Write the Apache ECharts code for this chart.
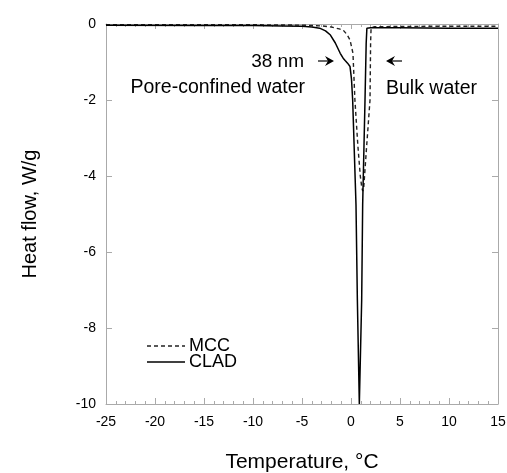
<!DOCTYPE html>
<html>
<head>
<meta charset="utf-8">
<script src="https://cdn.jsdelivr.net/npm/echarts@6/dist/echarts.min.js"></script>
<style>
  html, body { margin: 0; padding: 0; background: #fff; }
  #chart { width: 507px; height: 473px; }
</style>
</head>
<body>
<div id="chart"></div>
<script>
// CLAD (solid)
var cladTemp = [-25, -15, -10, -7, -5, -4, -3.2, -2.6, -2.1, -1.6, -1.1, -0.8, -0.6, -0.35, -0.1, 0.05, 0.17, 0.51, 0.65, 0.85, 1.09, 1.19, 1.43, 1.55, 1.62, 2.0, 5, 10, 15]
var cladHeat = [-0.03, -0.04, -0.04, -0.05, -0.06, -0.08, -0.11, -0.18, -0.29, -0.5, -0.77, -0.9, -0.96, -1.03, -1.12, -1.45, -2.0, -4.76, -7.26, -10, -7.26, -4.76, -2.0, -0.5, -0.11, -0.1, -0.1, -0.11, -0.11]
// MCC (dashed)
var mccTemp = [-25, -15, -10, -5, -3, -2, -1.2, -0.8, -0.4, -0.1, 0.2, 0.4, 0.7, 0.95, 1.1, 1.2, 1.3, 1.6, 1.94, 2.0, 2.05, 2.4, 8, 15]
var mccHeat = [-0.02, -0.02, -0.02, -0.03, -0.05, -0.08, -0.13, -0.16, -0.28, -0.42, -0.77, -2.0, -3.2, -4.0, -4.3, -4.4, -4.3, -3.2, -2.0, -0.5, -0.1, -0.07, -0.06, -0.06]

var xTicks = { min: -25, max: 15, interval: 5 }
var yTicks = { min: -10, max: 0, interval: 2 }

function pairs(xs, ys) {
  return xs.map(function (x, i) { return [x, ys[i]] })
}

var axisGray = '#aaaaaa'
var font = 'Liberation Sans, Arial, Helvetica, sans-serif'

var myChart = echarts.init(document.getElementById('chart'))
myChart.setOption({
  animation: false,
  grid: { left: 106, right: 9, top: 24, bottom: 69, outerBoundsMode: 'none' },
  xAxis: [
    {
      type: 'value',
      min: xTicks.min, max: xTicks.max, interval: xTicks.interval,
      name: 'Temperature, °C',
      nameLocation: 'middle',
      nameGap: 48,
      nameTextStyle: { color: '#000', fontSize: 21, fontFamily: font },
      axisLine: { onZero: false, lineStyle: { color: axisGray } },
      axisTick: { inside: true, length: 6, lineStyle: { color: axisGray } },
      minorTick: { show: true, splitNumber: 5, length: 3, lineStyle: { color: axisGray } },
      axisLabel: { color: '#000', fontSize: 14, fontFamily: font, margin: 11 },
      splitLine: { show: false }
    },
    {
      type: 'value', position: 'top',
      min: xTicks.min, max: xTicks.max, interval: xTicks.interval,
      axisLine: { onZero: false, lineStyle: { color: axisGray } },
      axisTick: { inside: true, length: 5, lineStyle: { color: axisGray } },
      minorTick: { show: true, splitNumber: 5, length: 3, lineStyle: { color: axisGray } },
      axisLabel: { show: false },
      splitLine: { show: false }
    }
  ],
  yAxis: [
    {
      type: 'value',
      min: yTicks.min, max: yTicks.max, interval: yTicks.interval,
      name: 'Heat flow, W/g',
      nameLocation: 'middle',
      nameGap: 66,
      nameTextStyle: { color: '#000', fontSize: 20, fontFamily: font },
      axisLine: { show: true, onZero: false, lineStyle: { color: axisGray } },
      axisTick: { show: true, inside: true, length: 6, lineStyle: { color: axisGray } },
      axisLabel: { color: '#000', fontSize: 14, fontFamily: font, margin: 10 },
      splitLine: { show: false }
    },
    {
      type: 'value', position: 'right',
      min: yTicks.min, max: yTicks.max, interval: yTicks.interval,
      axisLine: { show: true, onZero: false, lineStyle: { color: axisGray } },
      axisTick: { show: true, inside: true, length: 6, lineStyle: { color: axisGray } },
      axisLabel: { show: false },
      splitLine: { show: false }
    }
  ],
  series: [
    {
      name: 'MCC',
      type: 'line',
      data: pairs(mccTemp, mccHeat),
      showSymbol: false,
      clip: true,
      lineStyle: { color: '#222', width: 1.4, type: [4, 3] },
      z: 2
    },
    {
      name: 'CLAD',
      type: 'line',
      data: pairs(cladTemp, cladHeat),
      showSymbol: false,
      clip: true,
      lineStyle: { color: '#000', width: 1.5 },
      z: 3
    }
  ],
  graphic: [
    // annotations
    { type: 'text', right: 507 - 304, top: 52, style: { text: '38 nm', fill: '#000', font: '19px ' + font } },
    { type: 'text', right: 507 - 305, top: 78, style: { text: 'Pore-confined water', fill: '#000', font: '19.5px ' + font } },
    { type: 'text', left: 386, top: 79, style: { text: 'Bulk water', fill: '#000', font: '19.5px ' + font } },
    { type: 'line', shape: { x1: 318, y1: 61, x2: 332, y2: 61 }, style: { stroke: '#000', lineWidth: 1.2 } },
    { type: 'polygon', shape: { points: [[334, 61], [325, 56], [328, 61], [325, 66]] }, style: { fill: '#000' } },
    { type: 'line', shape: { x1: 388, y1: 61, x2: 402, y2: 61 }, style: { stroke: '#000', lineWidth: 1.2 } },
    { type: 'polygon', shape: { points: [[386, 61], [395, 56], [392, 61], [395, 66]] }, style: { fill: '#000' } },
    // legend
    { type: 'line', shape: { x1: 147, y1: 346, x2: 185, y2: 346 }, style: { stroke: '#222', lineWidth: 1.3, lineDash: [4, 3] } },
    { type: 'text', left: 189, top: 337, style: { text: 'MCC', fill: '#000', font: '18px ' + font } },
    { type: 'line', shape: { x1: 147, y1: 362, x2: 185, y2: 362 }, style: { stroke: '#000', lineWidth: 1.3 } },
    { type: 'text', left: 189, top: 353, style: { text: 'CLAD', fill: '#000', font: '18px ' + font } }
  ]
})
</script>
</body>
</html>
